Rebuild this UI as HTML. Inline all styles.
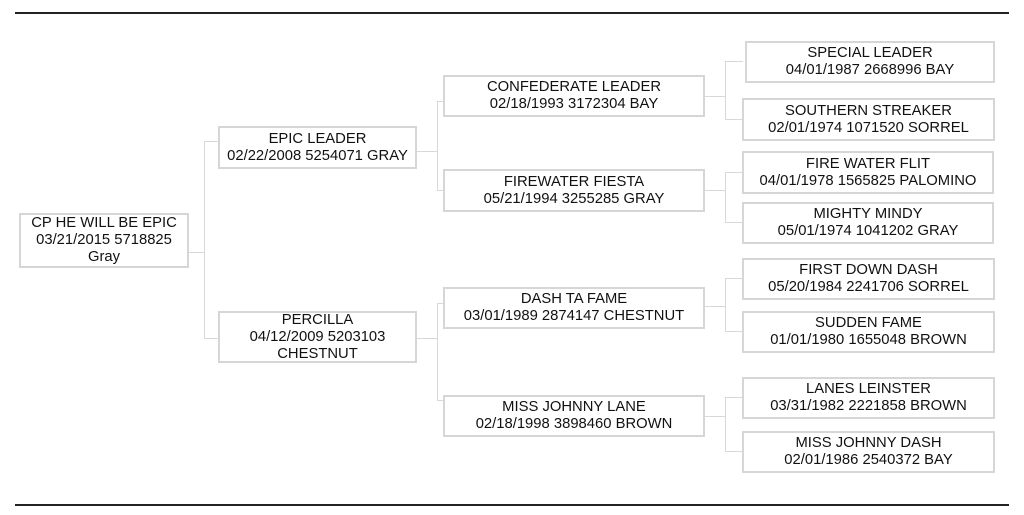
<!DOCTYPE html>
<html><head><meta charset="utf-8"><style>
html,body{margin:0;padding:0;background:#fff;}
body{width:1024px;height:515px;position:relative;overflow:hidden;font-family:"Liberation Sans",Arial,sans-serif;}
.rule{position:absolute;left:15px;width:994px;height:2px;background:#222;}
.b{position:absolute;box-sizing:border-box;border:2px solid #d6d6d6;display:flex;align-items:center;justify-content:center;text-align:center;font-size:14.8px;line-height:17px;color:#111;white-space:nowrap;}
.h,.v{position:absolute;background:#d8d8d8;}
.h{height:1px;}.v{width:1px;}
</style></head><body>
<div class="rule" style="top:12px"></div>
<div class="rule" style="top:504px"></div>

<div class="b" style="left:19px;top:213px;width:170px;height:55px">CP HE WILL BE EPIC<br>03/21/2015 5718825<br>Gray</div>
<div class="h" style="left:189px;top:252px;width:15px"></div>
<div class="v" style="left:204px;top:141px;height:198px"></div>
<div class="h" style="left:204px;top:141px;width:14px"></div>
<div class="h" style="left:204px;top:338px;width:14px"></div>

<div class="b" style="left:218px;top:126px;width:199px;height:43px">EPIC LEADER<br>02/22/2008 5254071 GRAY</div>
<div class="b" style="left:218px;top:311px;width:199px;height:52px">PERCILLA<br>04/12/2009 5203103<br>CHESTNUT</div>

<div class="h" style="left:417px;top:151px;width:20px"></div>
<div class="v" style="left:437px;top:101px;height:90px"></div>
<div class="h" style="left:437px;top:101px;width:6px"></div>
<div class="h" style="left:437px;top:190px;width:6px"></div>
<div class="h" style="left:417px;top:338px;width:20px"></div>
<div class="v" style="left:437px;top:303px;height:98px"></div>
<div class="h" style="left:437px;top:303px;width:6px"></div>
<div class="h" style="left:437px;top:400px;width:6px"></div>

<div class="b" style="left:443px;top:75px;width:262px;height:42px">CONFEDERATE LEADER<br>02/18/1993 3172304 BAY</div>
<div class="b" style="left:443px;top:169px;width:262px;height:43px">FIREWATER FIESTA<br>05/21/1994 3255285 GRAY</div>
<div class="b" style="left:443px;top:287px;width:262px;height:42px">DASH TA FAME<br>03/01/1989 2874147 CHESTNUT</div>
<div class="b" style="left:443px;top:395px;width:262px;height:42px">MISS JOHNNY LANE<br>02/18/1998 3898460 BROWN</div>

<div class="h" style="left:705px;top:96px;width:20px"></div>
<div class="v" style="left:725px;top:61px;height:59px"></div>
<div class="h" style="left:725px;top:61px;width:18px"></div>
<div class="h" style="left:725px;top:119px;width:18px"></div>
<div class="h" style="left:705px;top:190px;width:20px"></div>
<div class="v" style="left:725px;top:172px;height:51px"></div>
<div class="h" style="left:725px;top:172px;width:18px"></div>
<div class="h" style="left:725px;top:222px;width:18px"></div>
<div class="h" style="left:705px;top:306px;width:20px"></div>
<div class="v" style="left:725px;top:278px;height:54px"></div>
<div class="h" style="left:725px;top:278px;width:18px"></div>
<div class="h" style="left:725px;top:331px;width:18px"></div>
<div class="h" style="left:705px;top:416px;width:20px"></div>
<div class="v" style="left:725px;top:397px;height:55px"></div>
<div class="h" style="left:725px;top:397px;width:18px"></div>
<div class="h" style="left:725px;top:451px;width:18px"></div>

<div class="b" style="left:745px;top:41px;width:250px;height:42px">SPECIAL LEADER<br>04/01/1987 2668996 BAY</div>
<div class="b" style="left:742px;top:98px;width:253px;height:43px">SOUTHERN STREAKER<br>02/01/1974 1071520 SORREL</div>
<div class="b" style="left:742px;top:151px;width:252px;height:43px">FIRE WATER FLIT<br>04/01/1978 1565825 PALOMINO</div>
<div class="b" style="left:742px;top:202px;width:252px;height:42px">MIGHTY MINDY<br>05/01/1974 1041202 GRAY</div>
<div class="b" style="left:742px;top:258px;width:253px;height:42px">FIRST DOWN DASH<br>05/20/1984 2241706 SORREL</div>
<div class="b" style="left:742px;top:311px;width:253px;height:42px">SUDDEN FAME<br>01/01/1980 1655048 BROWN</div>
<div class="b" style="left:742px;top:377px;width:253px;height:42px">LANES LEINSTER<br>03/31/1982 2221858 BROWN</div>
<div class="b" style="left:742px;top:431px;width:253px;height:42px">MISS JOHNNY DASH<br>02/01/1986 2540372 BAY</div>
</body></html>
